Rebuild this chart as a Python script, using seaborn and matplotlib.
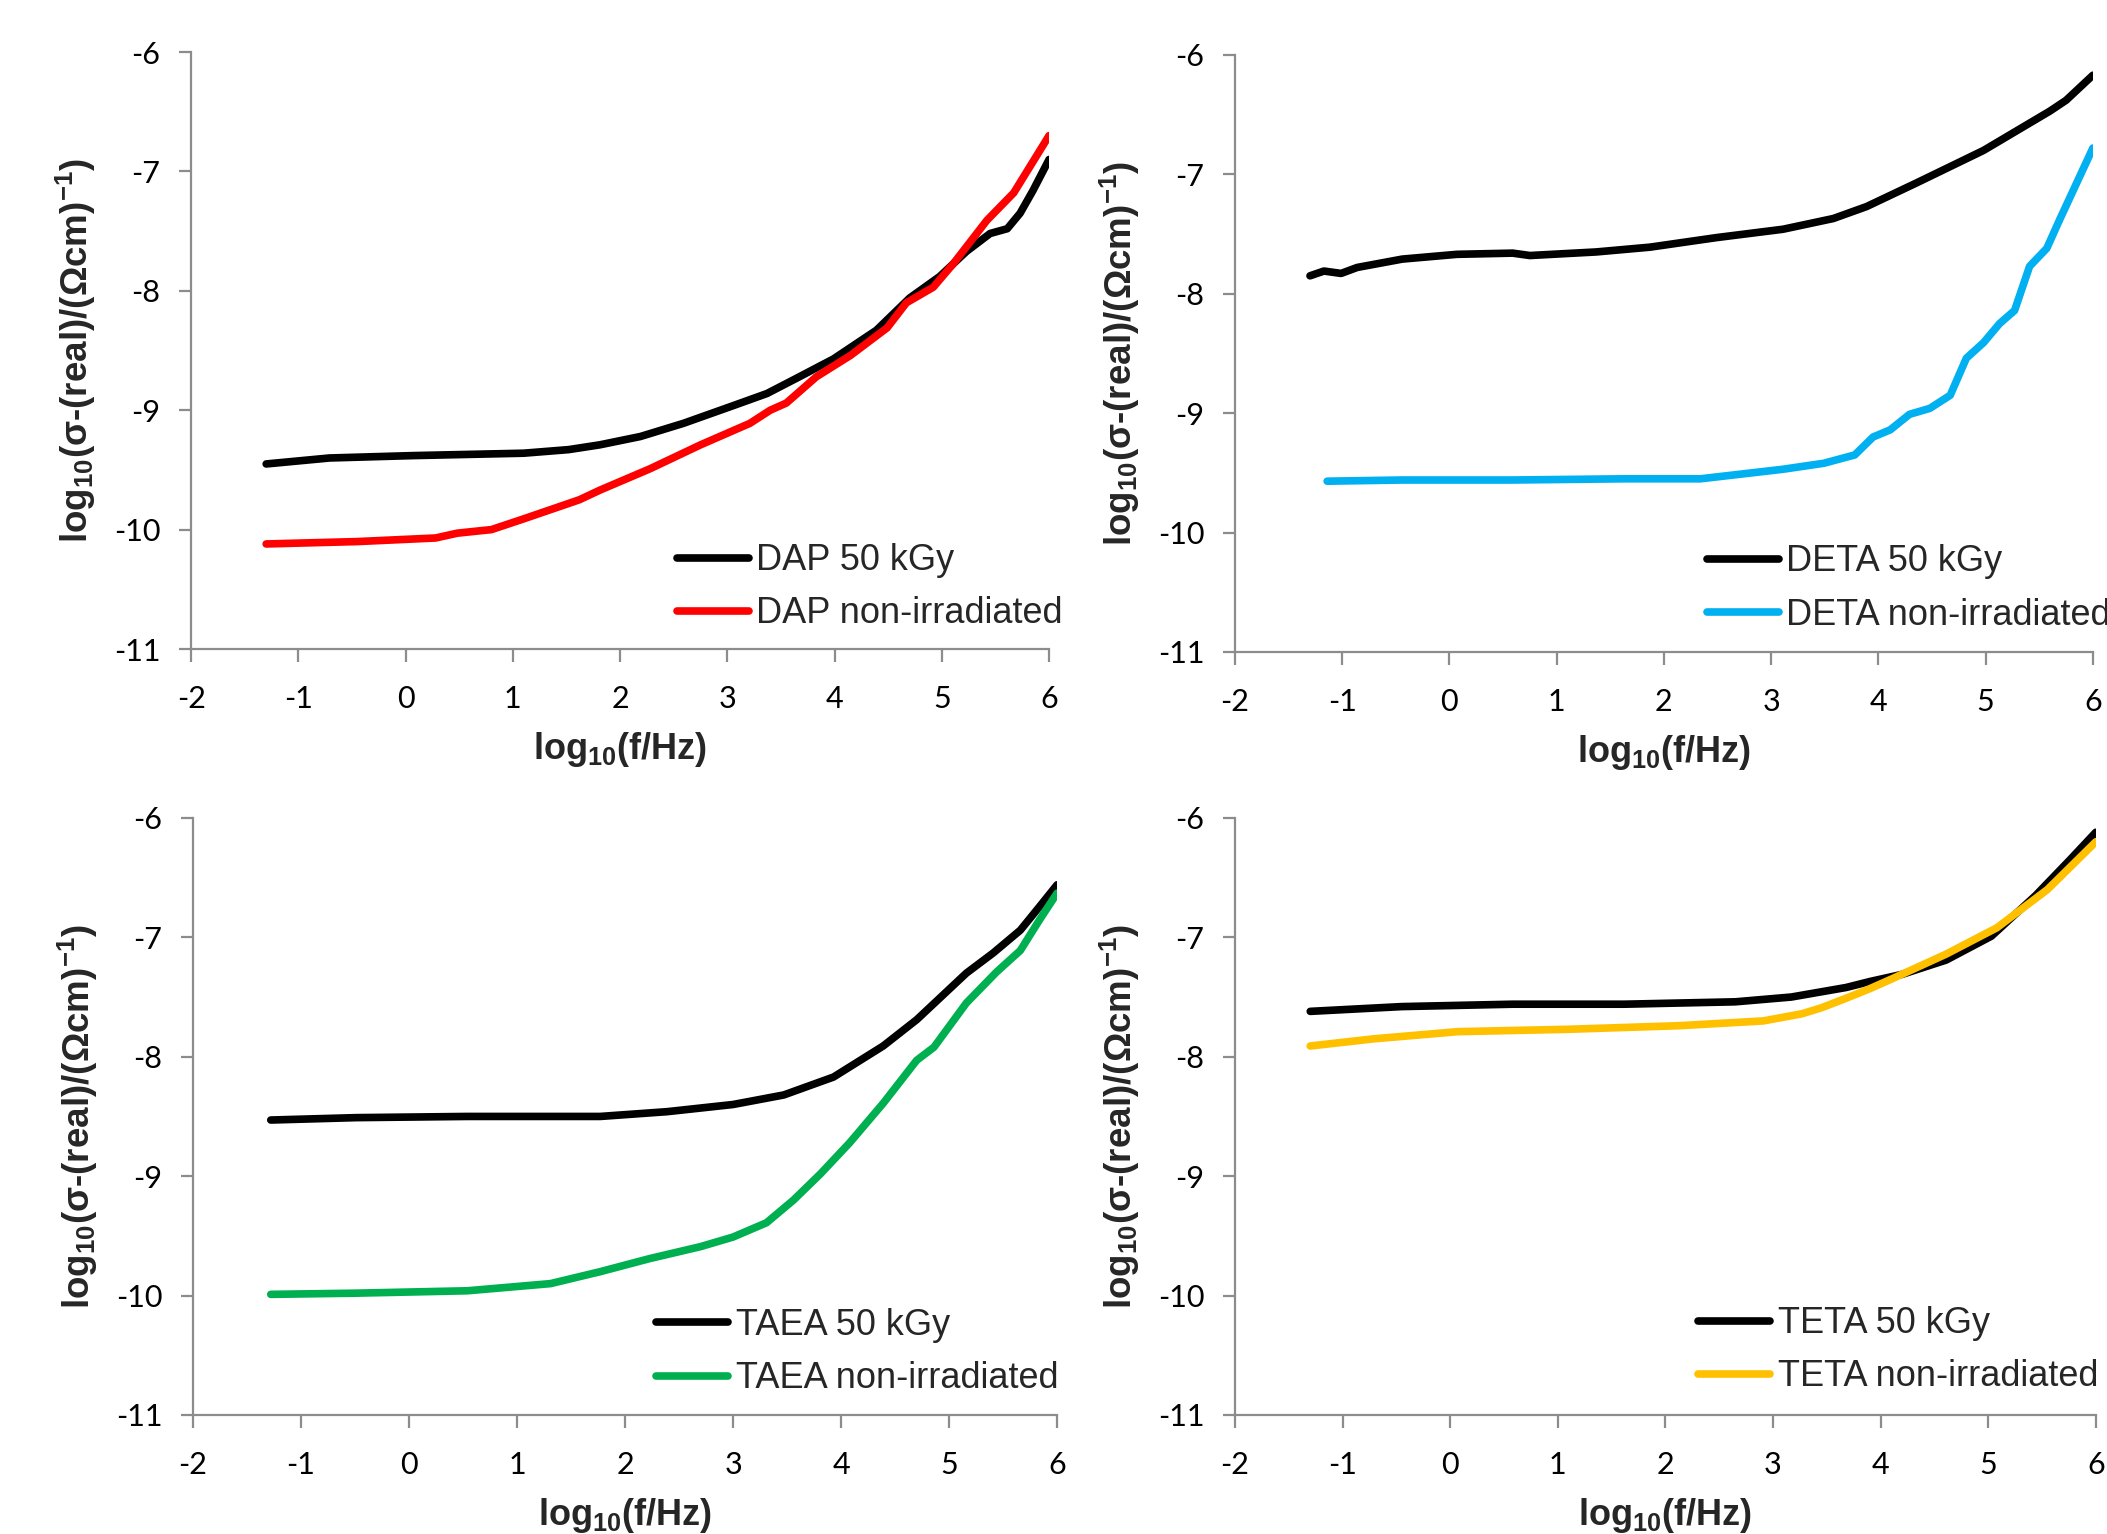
# Conductivity vs frequency for the four amine samples, 2x2 panels
import matplotlib
matplotlib.use("Agg")
import matplotlib.pyplot as plt
import seaborn as sns

# ---- data (x = log10 f/Hz, y = log10 sigma') ----
dap_irr_x = [-1.30, -0.71, 0.07, 1.10, 1.52, 1.81, 2.19, 2.59, 3.06, 3.37, 3.65, 3.99, 4.39, 4.70, 4.98, 5.23, 5.45, 5.61, 5.73, 5.85, 6.00]
dap_irr_y = [-9.45, -9.40, -9.38, -9.36, -9.33, -9.29, -9.22, -9.11, -8.96, -8.86, -8.73, -8.57, -8.33, -8.06, -7.88, -7.67, -7.52, -7.48, -7.35, -7.16, -6.90]
dap_non_x = [-1.30, -0.45, 0.28, 0.48, 0.69, 0.80, 1.10, 1.62, 1.81, 2.28, 2.75, 3.21, 3.40, 3.55, 3.83, 4.15, 4.49, 4.67, 4.92, 5.11, 5.42, 5.67, 6.00]
dap_non_y = [-10.12, -10.10, -10.07, -10.03, -10.01, -10.00, -9.91, -9.75, -9.67, -9.49, -9.29, -9.11, -9.00, -8.94, -8.72, -8.54, -8.31, -8.10, -7.97, -7.77, -7.41, -7.18, -6.70]

deta_irr_x = [-1.30, -1.17, -1.01, -0.86, -0.44, 0.07, 0.59, 0.75, 1.37, 1.87, 2.49, 3.11, 3.58, 3.89, 4.36, 4.98, 5.60, 5.75, 6.00]
deta_irr_y = [-7.85, -7.81, -7.83, -7.78, -7.71, -7.67, -7.66, -7.68, -7.65, -7.61, -7.53, -7.46, -7.37, -7.27, -7.07, -6.80, -6.47, -6.38, -6.17]
deta_non_x = [-1.14, -0.44, 0.59, 1.63, 2.34, 3.11, 3.49, 3.78, 3.95, 4.11, 4.29, 4.48, 4.67, 4.82, 4.98, 5.13, 5.27, 5.41, 5.57, 5.69, 6.00]
deta_non_y = [-9.57, -9.56, -9.56, -9.55, -9.55, -9.47, -9.42, -9.35, -9.20, -9.14, -9.01, -8.96, -8.85, -8.54, -8.41, -8.25, -8.14, -7.77, -7.62, -7.38, -6.78]

taea_irr_x = [-1.28, -0.49, 0.54, 1.57, 1.77, 2.39, 3.00, 3.47, 3.93, 4.39, 4.70, 5.16, 5.41, 5.66, 5.84, 6.00]
taea_irr_y = [-8.53, -8.51, -8.50, -8.50, -8.50, -8.46, -8.40, -8.32, -8.17, -7.91, -7.69, -7.30, -7.13, -6.94, -6.74, -6.56]
taea_non_x = [-1.28, -0.49, 0.54, 1.31, 1.77, 2.23, 2.70, 3.00, 3.31, 3.56, 3.81, 4.08, 4.39, 4.70, 4.86, 5.16, 5.44, 5.66, 5.84, 6.00]
taea_non_y = [-9.99, -9.98, -9.96, -9.90, -9.80, -9.69, -9.59, -9.51, -9.39, -9.20, -8.98, -8.72, -8.39, -8.03, -7.92, -7.55, -7.29, -7.11, -6.85, -6.63]

teta_irr_x = [-1.30, -0.45, 0.58, 1.62, 2.65, 3.17, 3.68, 3.90, 4.20, 4.61, 5.03, 5.44, 5.75, 6.00]
teta_irr_y = [-7.62, -7.58, -7.56, -7.56, -7.54, -7.50, -7.42, -7.37, -7.31, -7.19, -6.99, -6.65, -6.36, -6.12]
teta_non_x = [-1.30, -0.71, 0.07, 1.10, 2.13, 2.91, 3.27, 3.45, 3.68, 3.90, 4.10, 4.61, 5.08, 5.55, 6.00]
teta_non_y = [-7.91, -7.85, -7.79, -7.77, -7.74, -7.70, -7.64, -7.59, -7.51, -7.43, -7.35, -7.14, -6.92, -6.60, -6.20]

samples = ["DAP", "DETA", "TAEA", "TETA"]
non_colors = ["#FF0000", "#00B0F0", "#00B050", "#FFC000"]
x_ticks = [-2, -1, 0, 1, 2, 3, 4, 5, 6]
y_ticks = [-11, -10, -9, -8, -7, -6]

series = [
    (dap_irr_x, dap_irr_y, dap_non_x, dap_non_y),
    (deta_irr_x, deta_irr_y, deta_non_x, deta_non_y),
    (taea_irr_x, taea_irr_y, taea_non_x, taea_non_y),
    (teta_irr_x, teta_irr_y, teta_non_x, teta_non_y),
]

# ---- styling ----
sns.set_style("ticks")
plt.rcParams["mathtext.default"] = "regular"

fig = plt.figure(figsize=(21.07, 15.34), dpi=100)
rects = [
    [0.0907, 0.5769, 0.4072, 0.3892],
    [0.5861, 0.5750, 0.4072, 0.3892],
    [0.0916, 0.0776, 0.4101, 0.3892],
    [0.5861, 0.0776, 0.4086, 0.3892],
]
legend_anchor = [(0.566, 0.177), (0.550, 0.180), (0.536, 0.179), (0.538, 0.182)]
axis_gray = "#8C8C8C"

for i, name in enumerate(samples):
    ax = fig.add_axes(rects[i])
    xi, yi, xn, yn = series[i]
    sns.lineplot(x=xi, y=yi, ax=ax, color="black", linewidth=5.5,
                 label=f"{name} 50 kGy", estimator=None, sort=False,
                 solid_capstyle="round", solid_joinstyle="round")
    sns.lineplot(x=xn, y=yn, ax=ax, color=non_colors[i], linewidth=5.5,
                 label=f"{name} non-irradiated", estimator=None, sort=False,
                 solid_capstyle="round", solid_joinstyle="round")

    ax.set_xlim(-2, 6)
    ax.set_ylim(-11, -6)
    ax.set_xticks(x_ticks)
    ax.set_yticks(y_ticks)
    ax.set_xticklabels([str(t) for t in x_ticks], fontfamily="Lato", fontsize=22)
    ax.set_yticklabels([str(t) for t in y_ticks], fontfamily="Lato", fontsize=22)
    ax.tick_params(axis="x", direction="out", length=9, width=1.6,
                   color=axis_gray, pad=17, labelcolor="black")
    ax.tick_params(axis="y", direction="out", length=9, width=1.6,
                   color=axis_gray, pad=13, labelcolor="black")
    for s in ["top", "right"]:
        ax.spines[s].set_visible(False)
    for s in ["left", "bottom"]:
        ax.spines[s].set_color(axis_gray)
        ax.spines[s].set_linewidth(1.6)
    ax.grid(False)

    ax.set_xlabel("log$_{10}$(f/Hz)", fontfamily="Liberation Sans",
                  fontweight="bold", fontsize=26)
    ax.set_ylabel("log$_{10}$(σ-(real)/(Ωcm)$^{-1}$)", fontfamily="Liberation Sans",
                  fontweight="bold", fontsize=26.5)
    ax.xaxis.set_label_coords(0.5, -0.136)
    ax.yaxis.set_label_coords(-0.108, 0.5)

    ax.legend(loc="upper left", bbox_to_anchor=legend_anchor[i], frameon=False,
              prop={"family": "Liberation Sans", "size": 26},
              borderpad=0, borderaxespad=0, handlelength=2.0,
              handletextpad=0.2, labelspacing=0.5)

fig.savefig("out.png", dpi=100)
